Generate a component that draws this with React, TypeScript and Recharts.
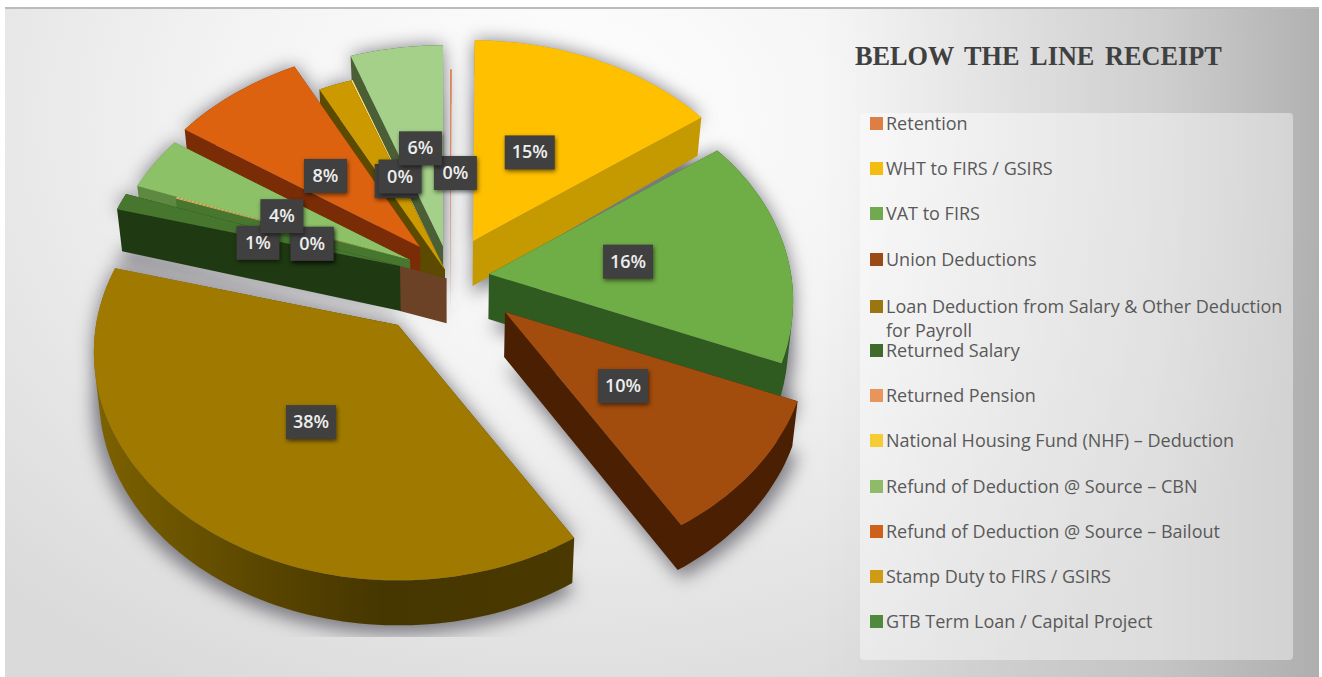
import React from 'react';
import { PieChart, Pie, Legend } from 'recharts';

const categories = [
  'Retention',
  'WHT to FIRS / GSIRS',
  'VAT to FIRS',
  'Union Deductions',
  'Loan Deduction from Salary & Other Deduction for Payroll',
  'Returned Salary',
  'Returned Pension',
  'National Housing Fund (NHF) – Deduction',
  'Refund of Deduction @ Source – CBN',
  'Refund of Deduction @ Source – Bailout',
  'Stamp Duty to FIRS / GSIRS',
  'GTB Term Loan / Capital Project',
  '',
];
const shares = [0.1, 15, 16, 10, 38, 1.2, 0.08, 0.08, 3.8, 8, 2, 0.1, 5.6];

// styling, one entry per slice
const faceColors = ['#e0855c', '#ffc000', '#6fad46', '#a24c0d', '#a07a00', '#47772f', '#e8b070', '#f5d060', '#8cc168', '#dc6210', '#cc9a00', '#ffe080', '#a5d08a'];
const wallColors = ['#c98a70', '#c49a00', '#2f5a20', '#4a1f02', 'url(#loanWall)', '#1f3a12', '#47772f', '#47772f', '#5d8a40', '#7a2c06', '#5c4a00', '#8a7000', '#4a5f35'];
const legendColors = ['#dd7f45', '#f2bc10', '#70a950', '#9a4a15', '#9a7510', '#3f6a2c', '#e8955c', '#f5cc35', '#8fbb68', '#cf601c', '#cf9a14', '#4f8a3c'];
const sliceOffsets = [[2, 0], [25, -29], [41, 4], [57, 42], [-50, 55], [-48, -4], [-38, -10], [-38, -10], [-38, -10], [-28, -23], [-3, 0], [-3, 0], [-5, -24]];
const radiusScale = [1, 1, 1, 1, 1, 1, 0.85, 0.85, 1, 1, 1, 1, 1];
const labelFraction = [0.43, 0.46, 0.46, 0.5, 0.5, 0.49, 0.33, 0.33, 0.46, 0.45, 0.45, 0.43, 0.45];
const labelNudge = [[5, -4], [-4, 0], [2, 0], [-2, -2], [7, 1], [-3, 9], [-19, 5], [-19, 5], [-7, 2], [-7, 2], [4, 0], [-2, -6], [0, -2]];

const TILT = 0.755;
const PERSPECTIVE = 0.12;
const DEPTH = 45;
const FAR_DEPTH_LOSS = 12;
const FLOOR_SHRINK = 0.985;
const BROWN_BACK = 0.17;
const SHADOW_CUT = 637;

const rows = categories.map((name, i) => ({ name, value: shares[i], id: i }));
const sumOf = (list: { value: number }[]) => list.reduce((a, r) => a + r.value, 0);
const total = sumOf(rows);
const rightRows = rows.slice(0, 5);
const leftRows = rows.slice(5).reverse();
const rightSweep = (sumOf(rightRows) / total) * 360;
const leftSweep = (sumOf(leftRows) / total) * 360;

const project = (id: number, cx: number, cy: number, R: number, deg: number, f: number) => {
  const a = (deg * Math.PI) / 180;
  const nx = Math.cos(a) * f * radiusScale[id];
  const ny = -Math.sin(a) * f * radiusScale[id];
  const s = 1 + PERSPECTIVE * ny;
  return [cx + sliceOffsets[id][0] + nx * R * s, cy + sliceOffsets[id][1] + ny * R * TILT * s];
};

const outline = (p: any) => {
  const id = p.payload?.id ?? p.id;
  const { cx, cy, outerRadius: R, startAngle, endAngle } = p;
  const lo = Math.min(startAngle, endAngle);
  const hi = Math.max(startAngle, endAngle);
  const pts: number[][] = [];
  const steps = Math.max(2, Math.ceil((hi - lo) / 1.5));
  for (let k = 0; k <= steps; k++) pts.push(project(id, cx, cy, R, lo + ((hi - lo) * k) / steps, 1));
  return { id, pts, apex: project(id, cx, cy, R, 0, 0), cx, cy, R, lo, hi };
};
const toPath = (pts: number[][]) => 'M' + pts.map((q) => q[0].toFixed(1) + ',' + q[1].toFixed(1)).join('L') + 'Z';

const floorOf = (q: number[], apex: number[], cx: number, R: number) => {
  const ny = (q[1] - apex[1]) / (R * TILT);
  const d = DEPTH + FAR_DEPTH_LOSS * Math.min(ny, 0);
  return [cx + (q[0] - cx) * FLOOR_SHRINK, q[1] + d];
};

const orient = (quad: number[][]) => {
  let area = 0;
  quad.forEach((q, i) => {
    const n = quad[(i + 1) % quad.length];
    area += q[0] * n[1] - n[0] * q[1];
  });
  return area < 0 ? quad.slice().reverse() : quad;
};

const SliceShape = (p: any) => {
  const { id, pts, apex, cx, R } = outline(p);
  const ring = [apex, ...pts];
  const wallPath = ring
    .map((q, k) => {
      const n = ring[(k + 1) % ring.length];
      return toPath(orient([q, n, floorOf(n, apex, cx, R), floorOf(q, apex, cx, R)]));
    })
    .join(' ');
  let backWall = null;
  if (id === 5) {
    const dirEnd = pts[0];
    const back = [apex[0] - (dirEnd[0] - apex[0]) * BROWN_BACK, apex[1] - (dirEnd[1] - apex[1]) * BROWN_BACK];
    backWall = <path d={toPath([apex, back, [back[0], back[1] + DEPTH], [apex[0], apex[1] + DEPTH]])} fill="#6c4226" />;
  }
  return (
    <g>
      <defs>
        <linearGradient id="loanWall" x1="0" y1="0" x2="1" y2="0">
          <stop offset="0" stopColor="#7d6200" />
          <stop offset="0.35" stopColor="#5a4600" />
          <stop offset="0.6" stopColor="#463600" />
          <stop offset="1" stopColor="#4a3900" />
        </linearGradient>
      </defs>
      {backWall}
      <path d={wallPath} fill={wallColors[id]} />
      <path d={toPath(ring)} fill={faceColors[id]} />
    </g>
  );
};

const ShadowShape = (p: any) => {
  const { pts, apex } = outline(p);
  const ring = [apex, ...pts];
  const low = ring.map((q) => [q[0], q[1] + DEPTH + 8]);
  return (
    <g>
      <defs>
        <clipPath id="shadowCut">
          <rect x={0} y={0} width={1322} height={SHADOW_CUT} />
        </clipPath>
      </defs>
      <g clipPath="url(#shadowCut)">
        <g style={{ filter: 'blur(9px)' }}>
          <path d={toPath(ring)} fill="#55555f" fillOpacity={0.75} />
          <path d={toPath(low)} fill="#55555f" fillOpacity={0.75} />
        </g>
      </g>
    </g>
  );
};

const EmptyShape = () => <g />;

const renderLabel = (p: any) => {
  const id = p.payload?.id ?? p.id;
  const mid = (p.startAngle + p.endAngle) / 2;
  const [px, py] = project(id, p.cx, p.cy, p.outerRadius, mid, labelFraction[id]);
  const x = px + labelNudge[id][0];
  const y = py + labelNudge[id][1];
  const text = Math.round((p.value / total) * 100) + '%';
  const w = text.length > 2 ? 50 : 43;
  return (
    <g key={id}>
      <rect x={x - w / 2} y={y - 17} width={w} height={34} fill="#404040" style={{ filter: 'drop-shadow(1px 2px 2px rgba(0,0,0,0.55))' }} />
      <text x={x} y={y + 6} textAnchor="middle" fontFamily="Open Sans" fontWeight={600} fontSize={18} fill="#eeeeee">
        {text}
      </text>
    </g>
  );
};

const LegendBox = () => (
  <div style={{ fontFamily: 'Open Sans', fontSize: 18, color: '#595959', paddingLeft: 10, marginTop: -2 }}>
    {legendColors.map((c, i) => (
      <div key={i} style={{ display: 'flex', alignItems: 'flex-start', lineHeight: '24px', width: 420, marginBottom: i === 3 ? 23 : i === 4 ? -3.5 : 21.2 }}>
        <span style={{ width: 13, height: 13, background: c, flex: 'none', marginTop: 6, marginRight: 3 }} />
        <span style={{ width: 402 }}>{categories[i]}</span>
      </div>
    ))}
  </div>
);

export default function App() {
  return (
    <div style={{ position: 'absolute', left: 0, top: 0, width: 1322, height: 677, background: '#fff', overflow: 'hidden' }}>
      <div
        style={{
          position: 'absolute',
          left: 5,
          top: 7,
          width: 1314,
          height: 670,
          boxSizing: 'border-box',
          borderTop: '2px solid #bbb',
          background:
            'linear-gradient(90deg, rgba(0,0,0,0) 62%, rgba(0,0,0,0.1) 88%, rgba(0,0,0,0.2) 100%), radial-gradient(ellipse 820px 640px at 560px 110px, #ffffff 0%, #f4f4f4 40%, #dadada 100%)',
        }}
      />
      <div style={{ position: 'absolute', left: 855, top: 41, fontFamily: 'Liberation Serif', fontWeight: 700, fontSize: 26.3, wordSpacing: 4, color: '#404040', whiteSpace: 'pre', lineHeight: '32px' }}>
        BELOW THE LINE RECEIPT
      </div>
      <div style={{ position: 'absolute', left: 0, top: 0 }}>
        <PieChart width={1322} height={677} margin={{ top: 0, right: 0, bottom: 0, left: 0 }}>
          <Pie data={rows} dataKey="value" nameKey="name" cx={448} cy={270} outerRadius={302} startAngle={90} endAngle={-270} stroke="none" legendType="none" isAnimationActive={false} shape={ShadowShape} />
          <Pie data={leftRows} dataKey="value" nameKey="name" cx={448} cy={270} outerRadius={302} startAngle={90} endAngle={90 + leftSweep} stroke="none" legendType="none" isAnimationActive={false} shape={SliceShape} />
          <Pie data={rightRows} dataKey="value" nameKey="name" cx={448} cy={270} outerRadius={302} startAngle={90} endAngle={90 - rightSweep} stroke="none" legendType="none" isAnimationActive={false} shape={SliceShape} />
          <Pie data={rows} dataKey="value" nameKey="name" cx={448} cy={270} outerRadius={302} startAngle={90} endAngle={-270} stroke="none" isAnimationActive={false} shape={EmptyShape} label={renderLabel} labelLine={false} />
          <Legend
            content={LegendBox}
            wrapperStyle={{ position: 'absolute', left: 860, top: 113, bottom: 'auto', width: 433, height: 547, background: 'rgba(255,255,255,0.42)', borderRadius: 4, boxSizing: 'border-box' }}
          />
        </PieChart>
      </div>
    </div>
  );
}
